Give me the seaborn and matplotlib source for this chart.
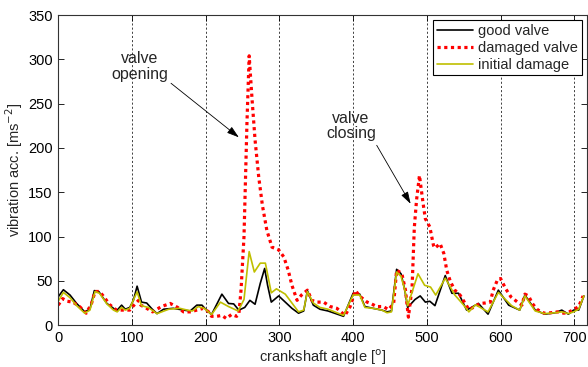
import matplotlib
matplotlib.use("Agg")
import matplotlib.pyplot as plt
import numpy as np
import pandas as pd
import seaborn as sns

# crankshaft angle [deg] / vibration acceleration [m s^-2]
good_angle = [0, 7, 16, 25, 36, 43, 49, 55, 66, 75, 79, 86, 91, 97, 102, 107, 113,
              120, 127, 134, 143, 156, 170, 179, 188, 195, 201, 208, 222, 231, 238,
              245, 253, 260, 267, 274, 280, 284, 289, 299, 308, 317, 326, 333, 338,
              346, 355, 366, 387, 400, 409, 416, 427, 439, 446, 452, 459, 465, 470,
              474, 484, 491, 498, 504, 511, 525, 534, 543, 554, 570, 583, 597, 611,
              626, 633, 647, 660, 674, 683, 692, 699, 706, 713]
good_value = [32, 40, 34, 24.5, 15, 18, 39, 38, 24.5, 19, 16, 22.6, 18, 20, 28, 44, 26,
              25, 18.5, 13, 18, 19, 17, 16, 22.6, 22.6, 17, 12, 35, 24.5, 24,
              17, 20, 28, 23.6, 47, 64, 45, 26, 33, 26, 19, 13.5, 16, 39,
              22.6, 18, 16, 10, 36, 35, 21, 19, 17, 15, 16, 63, 58, 40,
              20, 29, 33, 26, 27, 22, 56, 36, 36, 17, 24.5, 12.4, 39.5, 22.6,
              17, 34, 17, 12.4, 14, 17, 12.4, 17, 17, 33]

initial_angle = [0, 7, 16, 25, 36, 43, 50, 56, 66, 75, 80, 86, 91, 97, 107, 113, 122,
                 134, 150, 165, 175, 182, 190, 198, 208, 220, 231, 244, 252, 259, 266,
                 274, 281, 289, 296, 308, 317, 326, 333, 338, 346, 355, 366, 387, 400,
                 409, 416, 427, 439, 446, 452, 459, 465, 470, 474, 488, 497, 505, 512,
                 525, 538, 550, 557, 566, 583, 597, 615, 626, 633, 647, 660, 674, 683,
                 692, 699, 706, 713]
initial_value = [27, 37, 31, 22, 13.5, 17, 38, 36, 24, 17, 15, 20, 17, 19, 37.6, 22, 20,
                 13, 18, 19, 17, 16, 21, 19, 12, 26, 21, 16, 29, 83, 60,
                 70, 70, 36.5, 41, 35, 25, 15, 17, 38, 25, 20, 18, 11, 34,
                 34, 20, 19, 17, 14, 15, 60, 55, 40, 22, 58, 45, 43, 34,
                 53, 34, 22.6, 15, 23, 15, 37, 22, 17, 33, 16, 13, 14, 15,
                 13, 15, 18, 33]

damaged_angle = [0, 6, 12, 20, 29, 38, 45, 50, 56, 61, 70, 79, 91, 97, 101, 109, 112,
                 120, 128, 134, 140, 152, 162, 170, 179, 188, 197, 204, 208, 215, 222,
                 228, 235, 242, 245, 248, 252, 256, 259, 263, 267, 272, 277, 283, 290,
                 299, 306, 312, 317, 324, 330, 338, 344, 351, 360, 369, 378, 389, 396,
                 403, 410, 419, 425, 432, 441, 448, 455, 459, 466, 471, 475, 480, 483,
                 486, 490, 492, 495, 498, 504, 509, 511, 518, 523, 527, 532, 538, 545,
                 552, 557, 563, 572, 579, 586, 590, 596, 600, 607, 614, 623, 629, 633,
                 638, 643, 650, 659, 668, 677, 686, 693, 699, 706, 712]
damaged_value = [22.6, 30, 27, 26, 21, 13.5, 24, 38, 38, 33, 23, 17, 17, 17, 21, 28, 22.6,
                 19, 15, 18, 21, 24.5, 20, 15, 15, 17, 19, 15, 10, 10, 11,
                 7.5, 12, 10, 12, 40, 100, 228, 304, 254, 209, 167, 135, 107, 88,
                 85, 77, 62, 45, 28, 34, 39.5, 28, 26, 26, 21, 19, 11, 21,
                 39, 32, 26, 24, 21, 21, 17.5, 24.5, 62, 58.5, 39.5, 9, 43, 110,
                 141, 169, 156, 137, 120, 111, 90, 87, 92, 81, 62, 49, 39.5, 34,
                 24.5, 17.5, 20, 24.5, 25, 26, 39.5, 51.5, 52.6, 41, 32, 26, 22.6, 35,
                 33, 24.5, 17.5, 13.5, 14, 15, 13.5, 15, 17.5, 21, 33]

series_labels = ["good valve", "damaged valve", "initial damage"]

df = pd.concat([
    pd.DataFrame({"angle": good_angle, "acc": good_value, "series": series_labels[0]}),
    pd.DataFrame({"angle": damaged_angle, "acc": damaged_value, "series": series_labels[1]}),
    pd.DataFrame({"angle": initial_angle, "acc": initial_value, "series": series_labels[2]}),
])

sns.set_style("ticks")
plt.rcParams["font.family"] = ["Liberation Sans", "DejaVu Sans"]
plt.rcParams["font.size"] = 10.5

fig = plt.figure(figsize=(5.88, 3.67), dpi=100)
ax = fig.add_axes([0.099, 0.114, 0.899, 0.845])

styles = {
    "good valve": dict(color="black", linewidth=1.2),
    "damaged valve": dict(color="red", linewidth=2.3, dashes=(1, 1.1)),
    "initial damage": dict(color="#bfbf00", linewidth=1.2),
}
for name in series_labels:
    sub = df[df["series"] == name]
    kw = dict(styles[name])
    dash = kw.pop("dashes", None)
    sns.lineplot(data=sub, x="angle", y="acc", ax=ax, label=name,
                 estimator=None, sort=False, **kw)
    if dash is not None:
        ax.lines[-1].set_dashes(dash)

ax.set_xlim(0, 717)
ax.set_ylim(0, 350)
ax.set_xticks(np.arange(0, 701, 100))
ax.set_yticks(np.arange(0, 351, 50))
ax.tick_params(direction="in", top=True, right=True, length=4, width=0.6,
               labelsize=10.5, colors="black", pad=4)
for s in ax.spines.values():
    s.set_linewidth(0.8)
    s.set_color("#333333")
ax.xaxis.grid(True, color="#222222", linestyle=(0, (2.5, 2.5)), linewidth=0.6)
ax.yaxis.grid(False)

ax.set_xlabel("crankshaft angle [$^{\\rm o}$]", fontsize=10.5, labelpad=2)
ax.set_ylabel("vibration acc. [ms$^{-2}$]", fontsize=10.5, labelpad=2)

leg = ax.legend(loc="upper right", fancybox=False, framealpha=1, edgecolor="black",
                borderaxespad=0.35, handlelength=2.5, labelspacing=0.2, fontsize=10.5,
                borderpad=0.25, handletextpad=0.35)
leg.get_frame().set_linewidth(0.8)

arrow = dict(arrowstyle="-|>,head_length=0.7,head_width=0.22", color="black",
             linewidth=0.6, shrinkA=0, shrinkB=0)
ax.text(111, 292, "valve\nopening", ha="center", va="center", fontsize=11.5,
        linespacing=1.05)
ax.annotate("", xy=(245, 212), xytext=(153, 273), arrowprops=arrow)
ax.text(397, 225, "valve\nclosing", ha="center", va="center", fontsize=11.5,
        linespacing=1.05)
ax.annotate("", xy=(478, 137), xytext=(432, 203), arrowprops=arrow)

fig.savefig("out.png", dpi=100)
